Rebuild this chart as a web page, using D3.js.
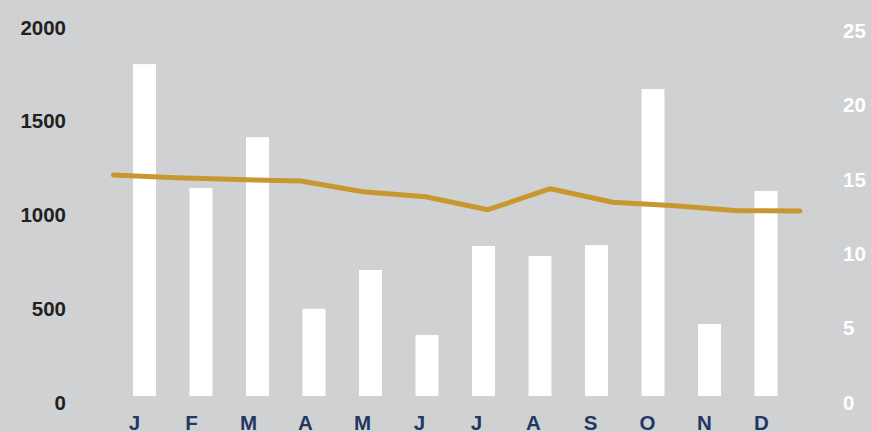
<!DOCTYPE html>
<html>
<head>
<meta charset="utf-8">
<script src="https://cdn.jsdelivr.net/npm/d3@7"></script>
<style>
  html, body { margin: 0; padding: 0; background: #d0d1d3; }
  svg { display: block; }
  text { font-family: "Liberation Sans", Arial, sans-serif; font-weight: bold; }
</style>
</head>
<body>
<svg id="chart" width="871" height="432"></svg>
<script>
const months = ["J","F","M","A","M","J","J","A","S","O","N","D"];
const barValues = [1770, 1110, 1380, 465, 672, 325, 800, 747, 805, 1637, 384, 1093];
const lineValues = [14.86, 14.68, 14.56, 14.46, 13.74, 13.40, 12.53, 13.94, 13.03, 12.80, 12.46, 12.44];
const leftTicks = [0, 500, 1000, 1500, 2000];
const rightTicks = [0, 5, 10, 15, 20, 25];

const W = 871, H = 432;
const baseY = 396;
const svg = d3.select("#chart");
svg.append("rect").attr("width", W).attr("height", H).attr("fill", "#d0d1d3");

const idx = d3.range(months.length);
const x = d3.scaleBand().domain(idx).range([116.25, 794.25])
  .paddingInner(0.593).paddingOuter(0.2965);
const xLabel = d3.scaleBand().domain(idx).range([106, 790]);
const xLine = d3.scalePoint().domain(idx).range([113.5, 800]);
const yL = d3.scaleLinear().domain([0, 2000]).range([baseY, 21]);
const yR = d3.scaleLinear().domain([0, 25]).range([baseY, 24.3]);

// bars
svg.append("g").selectAll("rect").data(barValues).join("rect")
  .attr("x", (d, i) => x(i))
  .attr("width", x.bandwidth())
  .attr("y", d => yL(d))
  .attr("height", d => yL(0) - yL(d))
  .attr("fill", "#ffffff");

// line
const line = d3.line().x((d, i) => xLine(i)).y(d => yR(d));
svg.append("path").datum(lineValues)
  .attr("d", line)
  .attr("fill", "none")
  .attr("stroke", "#c8982f")
  .attr("stroke-width", 5)
  .attr("stroke-linecap", "round")
  .attr("stroke-linejoin", "round");

const fmt = d3.format("d");
function styleText(sel, color) {
  sel.attr("fill", color)
    .style("font-size", "20.5px")
    .style("font-family", "Liberation Sans, Arial, sans-serif")
    .style("font-weight", "bold");
}

// left axis
const gL = svg.append("g").attr("transform", "translate(66,0)")
  .call(d3.axisLeft(yL).tickValues(leftTicks).tickFormat(fmt).tickSize(0).tickPadding(0));
gL.select(".domain").remove();
gL.selectAll("text").attr("dy", 13.2).call(styleText, "#231f20");

// right axis
const gR = svg.append("g").attr("transform", "translate(843,0)")
  .call(d3.axisRight(yR).tickValues(rightTicks).tickFormat(fmt).tickSize(0).tickPadding(0));
gR.select(".domain").remove();
gR.selectAll("text").attr("dy", 13.2).call(styleText, "#ffffff");

// bottom axis
const gB = svg.append("g").attr("transform", `translate(0,${baseY})`)
  .call(d3.axisBottom(xLabel).tickFormat(i => months[i]).tickSize(0).tickPadding(0));
gB.select(".domain").remove();
gB.selectAll("text").attr("y", 33.5).attr("dy", 0).call(styleText, "#1f3864");
</script>
</body>
</html>
